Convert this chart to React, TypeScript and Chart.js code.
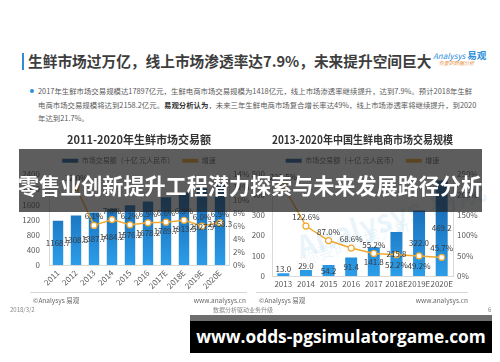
import React, { useEffect, useRef } from "react";
import { Chart, registerables } from "chart.js";

Chart.register(...registerables);

const FONT = '"Noto Sans CJK SC", "Noto Sans", sans-serif';

// ---- Left chart: 2011-2020 fresh food market ----
const marketYears = ["2011", "2012", "2013", "2014", "2015", "2016", "2017E", "2018E", "2019E", "2020E"];
const marketValues = [1168.7, 1308.5, 1387.7, 1484.2, 1576.2, 1678.2, 1789.7, 1913.5, 2027.9, 2158.3];
const marketGrowth = [null, 12.0, 6.1, 7.0, 6.2, 6.5, 6.6, 6.9, 6.0, 6.5];

// ---- Right chart: 2013-2020 fresh food e-commerce ----
const ecomYears = ["2013", "2014", "2015", "2016", "2017", "2018E", "2019E", "2020E"];
const ecomValues = [13.0, 29.0, 54.2, 91.4, 141.8, 215.8, 322.0, 469.2];
const ecomGrowth = [221.5, 122.6, 87.0, 68.6, 55.2, 52.2, 49.2, 45.7];
const ecomGrowthLabelBelow = [false, false, false, false, false, true, true, false];

const barLegend = "市场交易额（十亿 元人民币）";
const lineLegend = "增速";

const ORANGE = "#f0a830";

const valueLabels = {
  id: "valueLabels",
  afterDatasetsDraw(chart: any, _args: any, opts: any) {
    const ctx = chart.ctx;
    ctx.save();
    ctx.font = `${opts.size || 8}px ${FONT}`;
    ctx.fillStyle = "#3a3a3a";
    ctx.textAlign = "center";
    chart.data.datasets.forEach((ds: any, di: number) => {
      const meta = chart.getDatasetMeta(di);
      meta.data.forEach((el: any, i: number) => {
        const v = ds.data[i];
        if (v == null) return;
        if (meta.type === "bar") {
          const h = el.base - el.y;
          const txt = v.toFixed(1);
          if (h < 10) {
            ctx.textBaseline = "bottom";
            ctx.fillText(txt, el.x, el.y);
          } else {
            ctx.textBaseline = "middle";
            ctx.fillText(txt, el.x, (el.y + el.base) / 2);
          }
        } else {
          const below = opts.below && opts.below[i];
          const txt = v.toFixed(1) + "%";
          if (below) {
            ctx.textBaseline = "top";
            ctx.fillText(txt, el.x, el.y + 6);
          } else {
            ctx.textBaseline = "bottom";
            ctx.fillText(txt, el.x, el.y - 5);
          }
        }
      });
    });
    ctx.restore();
  },
};

function barGradient(c: any) {
  const chart = c.chart;
  const area = chart.chartArea;
  if (!area) return "#1f7fd0";
  const g = chart.ctx.createLinearGradient(0, area.top, 0, area.bottom);
  g.addColorStop(0, "#0f58a2");
  g.addColorStop(1, "#2c9de9");
  return g;
}

function makeConfig(p: {
  title: string;
  labels: string[];
  bars: number[];
  growth: (number | null)[];
  yMax: number;
  yStep: number;
  y1Max: number;
  y1Step: number;
  leftW: number;
  rightW: number;
  xH: number;
  rotate: number;
  barPct: number;
  yPad: number;
  below?: boolean[];
}) {
  const tickFont = { family: FONT, size: 8 };
  return {
    type: "bar",
    data: {
      labels: p.labels,
      datasets: [
        {
          type: "bar",
          label: barLegend,
          data: p.bars,
          backgroundColor: barGradient,
          barPercentage: p.barPct,
          categoryPercentage: 1,
          yAxisID: "y",
          order: 2,
        },
        {
          type: "line",
          label: lineLegend,
          data: p.growth,
          borderColor: ORANGE,
          backgroundColor: ORANGE,
          borderWidth: 1.5,
          pointRadius: 3,
          pointBackgroundColor: "#ffffff",
          pointBorderColor: ORANGE,
          pointBorderWidth: 1.2,
          yAxisID: "y1",
          order: 1,
          tension: 0,
        },
      ],
    },
    options: {
      responsive: false,
      animation: false,
      maintainAspectRatio: false,
      layout: { padding: { left: 0, right: 0, top: 0, bottom: 2 } },
      plugins: {
        title: {
          display: true,
          text: p.title,
          fullSize: false,
          color: "#333333",
          font: { family: FONT, size: 11, weight: "bold" },
          padding: { top: 5, bottom: 3 },
        },
        legend: {
          display: true,
          fullSize: false,
          labels: {
            font: { family: FONT, size: 7 },
            color: "#595959",
            boxWidth: 16,
            boxHeight: 4,
            padding: 8,
            generateLabels: () => [
              { text: barLegend, fillStyle: "#1f5f9f", strokeStyle: "#1f5f9f", lineWidth: 0, datasetIndex: 0, fontColor: "#595959" },
              { text: lineLegend, fillStyle: ORANGE, strokeStyle: ORANGE, lineWidth: 0, datasetIndex: 1, fontColor: "#595959" },
            ],
          },
        },
        tooltip: { enabled: false },
        valueLabels: { size: 8, below: p.below },
      },
      scales: {
        x: {
          grid: { display: false, drawTicks: false },
          border: { display: true, color: "#d9d9d9" },
          ticks: {
            font: tickFont,
            color: "#595959",
            maxRotation: p.rotate,
            minRotation: p.rotate,
            autoSkip: false,
            padding: 3,
          },
          afterFit(s: any) {
            s.height = p.xH;
          },
        },
        y: {
          position: "left",
          min: 0,
          max: p.yMax,
          grid: { display: false, drawTicks: false },
          border: { display: true, color: "#d9d9d9" },
          ticks: { stepSize: p.yStep, font: tickFont, color: "#595959", padding: p.yPad, callback: (v: any) => String(v) },
          afterFit(s: any) {
            s.width = p.leftW;
          },
        },
        y1: {
          position: "right",
          min: 0,
          max: p.y1Max,
          grid: { display: false, drawTicks: false },
          border: { display: true, color: "#d9d9d9" },
          ticks: {
            stepSize: p.y1Step,
            font: tickFont,
            color: "#595959",
            padding: 4,
            callback: (v: any) => v + "%",
          },
          afterFit(s: any) {
            s.width = p.rightW;
          },
        },
      },
    },
    plugins: [valueLabels],
  } as any;
}

function ChartCanvas(props: { config: any; left: number; top: number; width: number; height: number }) {
  const ref = useRef<HTMLCanvasElement | null>(null);
  useEffect(() => {
    if (!ref.current) return;
    const chart = new Chart(ref.current, props.config);
    return () => chart.destroy();
  }, []);
  return (
    <canvas
      ref={ref}
      width={props.width}
      height={props.height}
      style={{ position: "absolute", left: props.left, top: props.top, width: props.width, height: props.height }}
    />
  );
}

const abs = (s: any) => ({ position: "absolute" as const, whiteSpace: "nowrap" as const, fontFamily: FONT, ...s });

export default function App() {
  const leftCfg = makeConfig({
    title: "2011-2020年生鲜市场交易额",
    labels: marketYears,
    bars: marketValues,
    growth: marketGrowth,
    yMax: 2400,
    yStep: 400,
    y1Max: 14,
    y1Step: 2,
    leftW: 49,
    rightW: 21,
    xH: 33,
    rotate: 45,
    barPct: 0.58,
    yPad: 9,
  });
  const rightCfg = makeConfig({
    title: "2013-2020年中国生鲜电商市场交易规模",
    labels: ecomYears,
    bars: ecomValues,
    growth: ecomGrowth,
    yMax: 500,
    yStep: 100,
    y1Max: 250,
    y1Step: 50,
    leftW: 22,
    rightW: 47,
    xH: 16,
    rotate: 0,
    barPct: 0.53,
    yPad: 7,
    below: ecomGrowthLabelBelow,
  });

  const para = { fontSize: 7.4, color: "#595959", lineHeight: "12px" };

  return (
    <div style={{ position: "absolute", left: 0, top: 0, width: 500, height: 362, background: "#ffffff", overflow: "hidden" }}>
      {/* heading */}
      <div style={{ position: "absolute", left: 22, top: 53, width: 2, height: 17, background: "#2b8fd8" }} />
      <div style={abs({ left: 28, top: 51, fontSize: 14.7, fontWeight: 700, color: "#3d3d3d", lineHeight: "20px" })}>
        生鲜市场过万亿，线上市场渗透率达7.9%，未来提升空间巨大
      </div>
      {/* logo */}
      <div style={abs({ left: 433, top: 49, fontSize: 8, color: "#2b8fd8", lineHeight: "12px", fontStyle: "italic" })}>
        Analysys <span style={{ fontStyle: "normal", fontWeight: 700, fontSize: 9.5 }}>易观</span>
      </div>
      <div style={abs({ left: 439, top: 59, fontSize: 5, color: "#e8964a", lineHeight: "7px", fontStyle: "italic" })}>
        你要的数据分析
      </div>

      {/* bullet paragraph */}
      <div style={{ position: "absolute", left: 29.5, top: 89, width: 4, height: 4, borderRadius: 2, background: "#2b8fd8" }} />
      <div style={abs({ left: 38, top: 85, ...para })}>
        2017年生鲜市场交易规模达17897亿元，生鲜电商市场交易规模为1418亿元，线上市场渗透率继续提升，达到7.9%。预计2018年生鲜
      </div>
      <div style={abs({ left: 38, top: 98.5, ...para })}>
        电商市场交易规模将达到2158.2亿元。<b style={{ color: "#333" }}>易观分析认为</b>，未来三年生鲜电商市场复合增长率达49%，线上市场渗透率将继续提升，到2020
      </div>
      <div style={abs({ left: 38, top: 112, ...para })}>年达到21.7%。</div>

      {/* watermark right chart */}
      <div style={abs({ left: 292, top: 200, fontSize: 30, color: "rgba(40,150,220,0.10)", transform: "rotate(-18deg)", fontWeight: 700, lineHeight: "32px" })}>
        Analysys 易观
      </div>
      <div style={abs({ left: 300, top: 232, fontSize: 16, color: "rgba(40,150,220,0.09)", transform: "rotate(-18deg)", lineHeight: "18px" })}>
        你要的数据分析
      </div>

      {/* charts */}
      <ChartCanvas config={leftCfg} left={0} top={128} width={250} height={172} />
      <ChartCanvas config={rightCfg} left={250} top={128} width={250} height={166} />

      {/* chart footers */}
      <div style={{ position: "absolute", left: 30, top: 292, width: 217, height: 1, background: "#d6d6d6" }} />
      <div style={{ position: "absolute", left: 256, top: 292, width: 212, height: 1, background: "#d6d6d6" }} />
      <div style={abs({ left: 33, top: 296, fontSize: 6.5, color: "#666", lineHeight: "9px" })}>©Analysys 易观</div>
      <div style={abs({ right: 254, top: 296, fontSize: 6.5, color: "#666", lineHeight: "9px" })}>www.analysys.cn</div>
      <div style={abs({ left: 259, top: 296, fontSize: 6.5, color: "#666", lineHeight: "9px" })}>©Analysys 易观</div>
      <div style={abs({ right: 32, top: 296, fontSize: 6.5, color: "#666", lineHeight: "9px" })}>www.analysys.cn</div>

      {/* page footer */}
      <div style={abs({ left: 10, top: 306, fontSize: 6, color: "#888", lineHeight: "8px" })}>2018/3/2</div>
      <div style={abs({ left: 213, top: 306, fontSize: 6, color: "#888", lineHeight: "8px" })}>数据分析驱动业务升级</div>
      <div style={abs({ left: 488, top: 306, fontSize: 6, color: "#888", lineHeight: "8px" })}>6</div>

      {/* overlay banner */}
      <div style={{ position: "absolute", left: 19, top: 149, width: 463, height: 63, background: "rgba(30,30,30,0.72)" }} />
      <div style={abs({ left: 0, top: 171, width: 500, textAlign: "center", fontSize: 21.1, fontWeight: 700, color: "#ffffff", lineHeight: "28px" })}>
        零售业创新提升工程潜力探索与未来发展路径分析
      </div>

      {/* url box */}
      <div style={{ position: "absolute", left: 190, top: 315, width: 302, height: 6, background: "#6e6e6e" }} />
      <div style={{ position: "absolute", left: 190, top: 321, width: 302, height: 32, background: "#000000" }} />
      <div style={abs({ left: 190, top: 322, width: 302, textAlign: "center", fontFamily: '"Open Sans", "DejaVu Sans", sans-serif', fontSize: 17.3, fontWeight: 700, color: "#ffffff", lineHeight: "30px" })}>
        www.odds-pgsimulatorgame.com
      </div>
    </div>
  );
}
